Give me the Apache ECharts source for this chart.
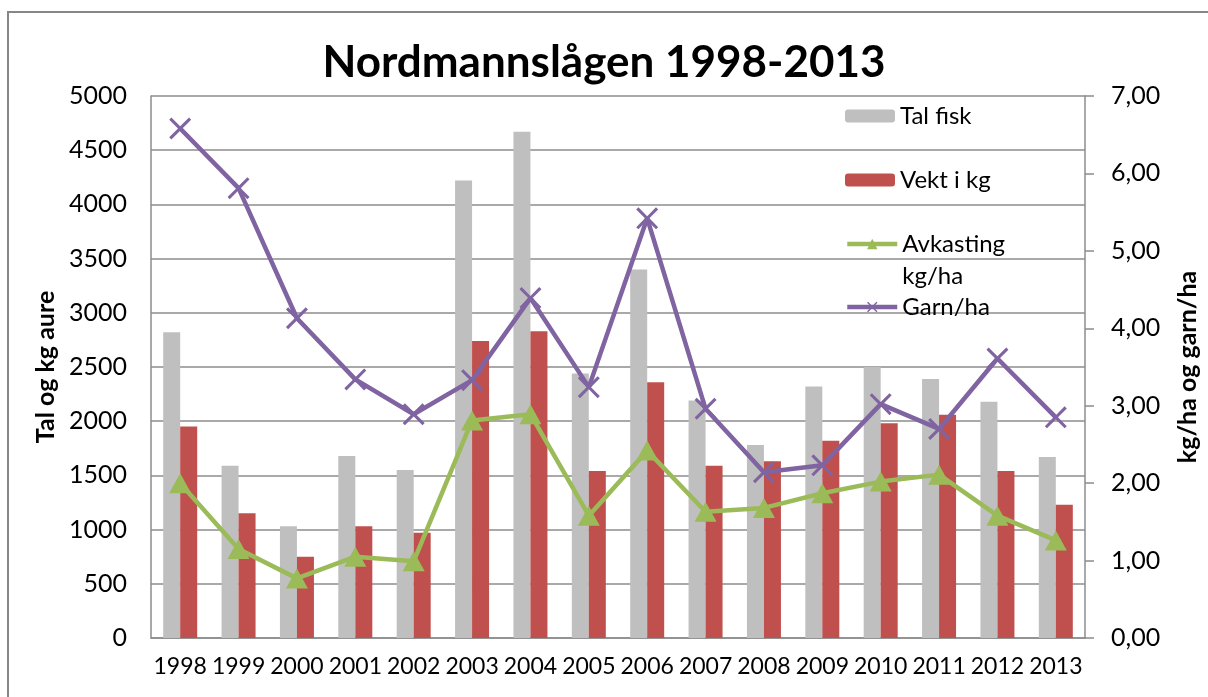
<!DOCTYPE html>
<html>
<head>
<meta charset="utf-8">
<title>Nordmannslågen 1998-2013</title>
<script src="https://cdn.jsdelivr.net/npm/echarts@6/dist/echarts.min.js"></script>
<style>
  html, body { margin: 0; padding: 0; background: #fff; }
  #chart { width: 1208px; height: 697px; }
</style>
</head>
<body>
<div id="chart"></div>
<script>
const years = ['1998', '1999', '2000', '2001', '2002', '2003', '2004', '2005',
  '2006', '2007', '2008', '2009', '2010', '2011', '2012', '2013'];
const talFisk = [2820, 1590, 1030, 1680, 1550, 4220, 4670, 2440,
  3400, 2190, 1780, 2320, 2500, 2390, 2180, 1670];
const vektKg = [1950, 1150, 750, 1030, 970, 2740, 2830, 1540,
  2360, 1590, 1630, 1820, 1980, 2060, 1540, 1230];
const avkasting = [2.0, 1.15, 0.77, 1.05, 0.99, 2.81, 2.89, 1.58,
  2.42, 1.63, 1.68, 1.87, 2.02, 2.11, 1.58, 1.26];
const garnHa = [6.58, 5.81, 4.13, 3.34, 2.89, 3.33, 4.39, 3.24,
  5.42, 2.96, 2.14, 2.23, 3.02, 2.70, 3.61, 2.85];
const leftTicks = { min: 0, max: 5000, interval: 500 };
const rightTicks = { min: 0, max: 7, interval: 1 };

const FONT = 'Lato';
const GRID_COLOR = '#8c8c8c';
// filled X shape, so it does not depend on stroke width
const CROSS = 'path://M0,1L1,0L5,4L9,0L10,1L6,5L10,9L9,10L5,6L1,10L0,9L4,5Z';

const chart = echarts.init(document.getElementById('chart'));

const legendBase = {
  orient: 'vertical',
  left: 845,
  padding: 0,
  itemWidth: 50,
  itemHeight: 13,
  lineStyle: { width: 4.5 },
  textStyle: { fontFamily: FONT, fontSize: 24, color: '#000', lineHeight: 28 }
};

chart.setOption({
  animation: false,
  title: {
    text: 'Nordmannslågen 1998-2013',
    left: 'center',
    top: 36,
    textStyle: { fontFamily: FONT, fontSize: 44, fontWeight: 'bold', color: '#000' }
  },
  graphic: [{
    type: 'rect',
    shape: { x: 8, y: 12, width: 1300, height: 800 },
    style: { fill: 'none', stroke: '#868686', lineWidth: 2 },
    z: -10
  }],
  legend: [
    Object.assign({}, legendBase, { top: 102, data: ['Tal fisk'] }),
    Object.assign({}, legendBase, { top: 166, data: ['Vekt i kg'] }),
    // empty first line keeps "Avkasting" level with the icon, "kg/ha" below
    Object.assign({}, legendBase, {
      top: 196,
      data: ['Avkasting kg/ha'],
      formatter: () => ' \nAvkasting\nkg/ha',
      textStyle: Object.assign({}, legendBase.textStyle, { lineHeight: 32 })
    }),
    Object.assign({}, legendBase, { top: 293, data: ['Garn/ha'] })
  ],
  grid: { left: 151, right: 117, top: 96, bottom: 59 },
  xAxis: {
    type: 'category',
    data: years,
    axisLine: { lineStyle: { color: GRID_COLOR, width: 1.5 } },
    axisTick: { show: false },
    axisLabel: { fontFamily: FONT, fontSize: 23, color: '#000', margin: 17, interval: 0 }
  },
  yAxis: [{
    type: 'value',
    min: leftTicks.min,
    max: leftTicks.max,
    interval: leftTicks.interval,
    name: 'Tal og kg aure',
    nameLocation: 'middle',
    nameRotate: 90,
    nameGap: 90,
    nameTextStyle: { fontFamily: FONT, fontSize: 25, fontWeight: 'bold', color: '#000' },
    axisLine: { show: true, lineStyle: { color: GRID_COLOR, width: 1.5 } },
    axisTick: { show: false },
    axisLabel: { fontFamily: FONT, fontSize: 25, color: '#000', margin: 24, formatter: v => String(v) },
    splitLine: { lineStyle: { color: GRID_COLOR, width: 1.5 } }
  }, {
    type: 'value',
    position: 'right',
    min: rightTicks.min,
    max: rightTicks.max,
    interval: rightTicks.interval,
    name: 'kg/ha og garn/ha',
    nameLocation: 'middle',
    nameRotate: 90,
    nameGap: 90,
    nameTextStyle: { fontFamily: FONT, fontSize: 25, fontWeight: 'bold', color: '#000' },
    axisLine: { show: true, lineStyle: { color: GRID_COLOR, width: 1.5 } },
    axisTick: { show: true, length: 9, lineStyle: { color: GRID_COLOR, width: 1.5 } },
    axisLabel: {
      fontFamily: FONT, fontSize: 25, color: '#000', margin: 26,
      formatter: v => v.toFixed(2).replace('.', ',')
    },
    splitLine: { show: false }
  }],
  series: [{
    name: 'Tal fisk',
    type: 'bar',
    data: talFisk,
    barWidth: 17,
    barGap: '0%',
    itemStyle: { color: '#BFBFBF' }
  }, {
    name: 'Vekt i kg',
    type: 'bar',
    data: vektKg,
    barWidth: 17,
    barGap: '0%',
    itemStyle: { color: '#C0504D' }
  }, {
    name: 'Avkasting kg/ha',
    type: 'line',
    yAxisIndex: 1,
    data: avkasting,
    symbol: 'triangle',
    symbolSize: [22, 20],
    lineStyle: { color: '#9BBB59', width: 4.5 },
    itemStyle: { color: '#9BBB59' }
  }, {
    name: 'Garn/ha',
    type: 'line',
    yAxisIndex: 1,
    data: garnHa,
    symbol: CROSS,
    symbolSize: 22,
    lineStyle: { color: '#8064A2', width: 4.5 },
    itemStyle: { color: '#8064A2' }
  }]
});
</script>
</body>
</html>
